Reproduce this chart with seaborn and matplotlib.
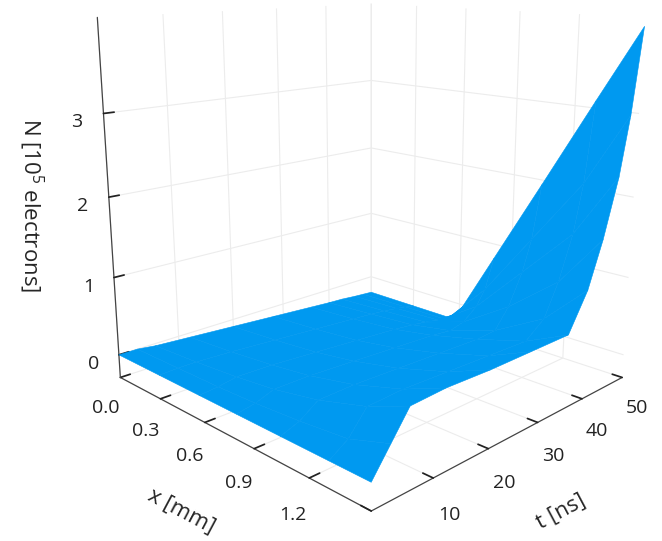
import numpy as np
import matplotlib
matplotlib.use("Agg")
import matplotlib.pyplot as plt
import seaborn as sns

# ---- data ----
x_mm = [0.0, 0.3, 0.57, 0.8, 1.05, 1.3, 1.5]
t_ns = [0, 3, 6, 12, 20, 28, 36, 40, 43, 46, 48, 50]
# N [1e5 electrons], one row per x value, columns follow t_ns
N_x000 = [0, 0.00, -0.03, -0.06, -0.10, -0.14, -0.18, -0.20, -0.21, -0.23, -0.24, -0.25]
N_x030 = [0, 0.01, 0.01, -0.01, -0.05, -0.09, -0.13, -0.15, -0.17, -0.20, -0.22, -0.25]
N_x057 = [0, 0.02, 0.06, 0.05, 0.01, -0.03, -0.07, -0.10, -0.13, -0.17, -0.21, -0.25]
N_x080 = [0, 0.04, 0.12, 0.12, 0.09, 0.06, 0.03, 0.00, 0.05, 0.20, 0.40, 0.80]
N_x105 = [0, 0.08, 0.23, 0.24, 0.22, 0.20, 0.18, 0.20, 0.45, 0.85, 1.25, 1.94]
N_x130 = [0, 0.14, 0.40, 0.42, 0.40, 0.38, 0.36, 0.55, 0.95, 1.50, 2.10, 3.09]
N_x150 = [0, 0.30, 0.60, 0.62, 0.60, 0.60, 0.60, 1.05, 1.60, 2.30, 3.00, 4.00]

x_ticks = [0.0, 0.3, 0.6, 0.9, 1.2]
t_ticks = [0, 10, 20, 30, 40, 50]
N_ticks = [0, 1, 2, 3]

sns.set_theme(style="white")
plt.rcParams["font.family"] = ["Open Sans", "DejaVu Sans"]
plt.rcParams["mathtext.fontset"] = "custom"
plt.rcParams["mathtext.rm"] = "Open Sans"
plt.rcParams["mathtext.it"] = "Open Sans"

N = np.array([N_x000, N_x030, N_x057, N_x080, N_x105, N_x130, N_x150])
X, T = np.meshgrid(x_mm, t_ns, indexing="ij")

fig = plt.figure(figsize=(6.62, 5.41), dpi=100)
ax = fig.add_axes([0.018, -0.044, 1.057, 1.294], projection="3d")
ax.set_proj_type("persp", focal_length=0.27)
ax.view_init(elev=14, azim=-45)
ax.set_box_aspect((1, 1, 1.0), zoom=0.89)

col = "#0099f0"
surf = ax.plot_surface(X, T, N, color=col, shade=False, linewidth=0,
                       antialiased=True, rstride=1, cstride=1)
surf.set_edgecolor(col)
surf.set_linewidth(0.4)

ax.set_xlim(0, 1.5)
ax.set_ylim(0, 50)
ax.set_zlim(-0.3, 4.1)
ax.set_xticks(x_ticks)
ax.set_xticklabels([f"{v:.1f}" for v in x_ticks])
ax.set_yticks(t_ticks)
ax.set_zticks(N_ticks)
ax.zaxis.set_ticks_position("lower")
ax.zaxis.set_label_position("lower")

for a in (ax.xaxis, ax.yaxis, ax.zaxis):
    a.set_pane_color((1, 1, 1, 1))
    a._axinfo["grid"]["color"] = "#ececec"
    a._axinfo["grid"]["linewidth"] = 0.8
    a._axinfo["axisline"]["color"] = "#444444"
    a._axinfo["tick"]["inward_factor"] = 0.0
    a._axinfo["tick"]["outward_factor"] = 0.4
    a.line.set_color("#444444")
    a.line.set_linewidth(0.9)
ax.tick_params(labelsize=14, colors="#222222", pad=5)

ax.set_xlabel("x [mm]", fontsize=16, labelpad=18)
ax.set_ylabel("t [ns]", fontsize=16, labelpad=18)
ax.zaxis.set_rotate_label(False)
ax.set_zlabel("N [10$^{5}$ electrons]", fontsize=16, labelpad=18, rotation=-90)

fig.savefig("out.png", dpi=100)
